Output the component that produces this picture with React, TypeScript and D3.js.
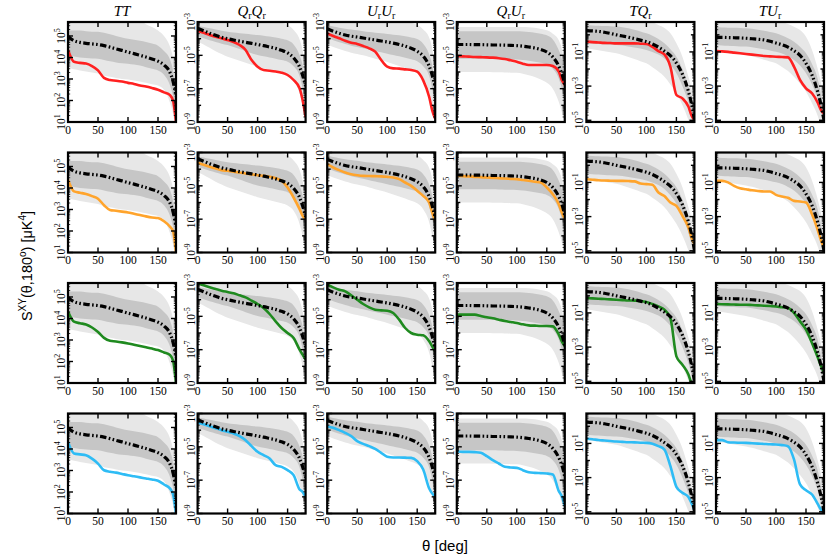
import React from 'react';
import * as d3 from 'd3';

// angular separation (deg) at which every curve is sampled
const THETA = [0, 10, 20, 30, 40, 50, 60, 70, 80, 90, 100, 110, 120, 130, 140, 150, 160, 170, 175, 180];

// all series are log10 of S^XY(theta,180deg)
// --- TT ---
const TT_MEAN = [4.98, 4.78, 4.7, 4.66, 4.63, 4.6, 4.55, 4.48, 4.4, 4.33, 4.25, 4.18, 4.1, 4.02, 3.93, 3.83, 3.65, 3.3, 2.9, 2.2];
const TT_IN_HI = [5.26, 5.25, 5.25, 5.22, 5.2, 5.2, 5.15, 5.08, 5.0, 4.93, 4.87, 4.82, 4.78, 4.72, 4.65, 4.55, 4.3, 3.9, 3.4, 2.3];
const TT_IN_LO = [4.1, 4.05, 4.0, 3.98, 3.95, 3.94, 3.88, 3.82, 3.77, 3.73, 3.71, 3.67, 3.63, 3.55, 3.48, 3.4, 3.2, 2.7, 2.2, 1.3];
const TT_OUT_HI = [5.9, 5.9, 5.9, 5.9, 5.9, 5.9, 5.9, 5.9, 5.9, 5.85, 5.8, 5.75, 5.7, 5.55, 5.42, 5.26, 5.0, 4.5, 4.0, 3.2];
const TT_OUT_LO = [3.55, 3.45, 3.4, 3.35, 3.3, 3.25, 3.15, 3.1, 3.05, 3.0, 2.98, 2.93, 2.88, 2.82, 2.76, 2.7, 2.5, 1.9, 1.4, 0.5];
const TT_RED = [4.35, 3.8, 3.75, 3.72, 3.6, 3.4, 3.05, 2.95, 2.92, 2.88, 2.82, 2.77, 2.7, 2.65, 2.58, 2.5, 2.38, 2.25, 2.0, 1.0];
const TT_ORANGE = [4.38, 3.84, 3.78, 3.72, 3.62, 3.5, 3.2, 2.98, 2.94, 2.9, 2.86, 2.8, 2.74, 2.68, 2.63, 2.6, 2.45, 2.2, 2.0, 1.0];
const TT_GREEN = [4.32, 3.85, 3.78, 3.72, 3.58, 3.37, 3.1, 2.96, 2.93, 2.89, 2.84, 2.78, 2.72, 2.66, 2.6, 2.53, 2.42, 2.3, 2.05, 1.0];
const TT_BLUE = [4.33, 3.79, 3.75, 3.71, 3.55, 3.32, 3.01, 2.94, 2.9, 2.84, 2.78, 2.73, 2.68, 2.63, 2.58, 2.52, 2.35, 2.16, 1.9, 1.0];

// --- QrQr ---
const QQ_MEAN = [-3.37, -3.52, -3.67, -3.8, -3.92, -4.0, -4.08, -4.15, -4.22, -4.28, -4.35, -4.42, -4.5, -4.58, -4.7, -4.85, -5.15, -5.7, -6.2, -6.85];
const QQ_IN_HI = [-3.25, -3.3, -3.38, -3.45, -3.52, -3.58, -3.63, -3.67, -3.71, -3.75, -3.78, -3.82, -3.87, -3.93, -4.0, -4.1, -4.35, -5.0, -5.6, -6.8];
const QQ_IN_LO = [-3.85, -3.98, -4.1, -4.2, -4.3, -4.38, -4.5, -4.62, -4.75, -4.87, -4.98, -5.06, -5.13, -5.2, -5.28, -5.38, -5.65, -6.25, -7.0, -8.3];
const QQ_OUT_HI = [-2.9, -2.9, -2.9, -2.9, -2.9, -2.9, -2.9, -2.9, -2.9, -2.9, -2.9, -2.9, -2.92, -2.95, -3.05, -3.18, -3.48, -4.05, -4.7, -6.0];
const QQ_OUT_LO = [-4.15, -4.35, -4.55, -4.75, -4.92, -5.08, -5.2, -5.32, -5.45, -5.57, -5.68, -5.77, -5.86, -5.95, -6.05, -6.18, -6.5, -7.3, -8.0, -9.2];
const QQ_RED = [-3.52, -3.65, -3.78, -3.88, -3.98, -4.08, -4.2, -4.38, -4.68, -5.28, -5.68, -5.88, -5.92, -5.97, -6.04, -6.18, -6.48, -6.98, -7.68, -8.7];
const QQ_ORANGE = [-3.6, -3.74, -3.86, -3.96, -4.06, -4.1, -4.16, -4.2, -4.26, -4.3, -4.36, -4.4, -4.46, -4.54, -4.7, -5.1, -5.7, -6.4, -6.8, -7.0];
const QQ_GREEN = [-3.0, -3.14, -3.26, -3.36, -3.46, -3.54, -3.62, -3.74, -3.86, -4.06, -4.26, -4.5, -4.86, -5.3, -5.7, -6.0, -6.3, -7.0, -7.3, -7.6];
const QQ_BLUE = [-3.56, -3.64, -3.76, -3.88, -4.0, -4.1, -4.2, -4.36, -4.6, -4.96, -5.3, -5.5, -5.7, -6.1, -6.2, -6.4, -6.7, -7.56, -7.7, -8.0];

// --- UrUr ---
const UU_MEAN = [-3.4, -3.55, -3.68, -3.78, -3.85, -3.9, -3.96, -4.02, -4.08, -4.14, -4.2, -4.27, -4.35, -4.45, -4.58, -4.75, -5.05, -5.65, -6.2, -6.9];
const UU_IN_HI = [-3.2, -3.27, -3.34, -3.4, -3.45, -3.5, -3.55, -3.6, -3.64, -3.68, -3.72, -3.76, -3.8, -3.86, -3.93, -4.02, -4.3, -4.95, -5.6, -6.8];
const UU_IN_LO = [-3.95, -4.1, -4.22, -4.32, -4.42, -4.5, -4.58, -4.66, -4.74, -4.82, -4.9, -4.98, -5.06, -5.14, -5.24, -5.36, -5.65, -6.25, -7.0, -8.3];
const UU_OUT_HI = [-2.9, -2.9, -2.9, -2.9, -2.9, -2.9, -2.9, -2.9, -2.9, -2.9, -2.9, -2.9, -2.92, -2.95, -3.05, -3.18, -3.45, -3.95, -4.6, -6.0];
const UU_OUT_LO = [-4.35, -4.5, -4.62, -4.74, -4.84, -4.92, -5.0, -5.1, -5.2, -5.3, -5.4, -5.52, -5.64, -5.76, -5.9, -6.05, -6.4, -7.2, -8.0, -9.2];
const UU_RED = [-3.68, -3.84, -3.98, -4.12, -4.24, -4.32, -4.44, -4.58, -4.78, -5.28, -5.68, -5.78, -5.8, -5.84, -5.88, -5.98, -6.5, -7.5, -8.3, -8.8];
const UU_ORANGE = [-3.7, -3.9, -4.06, -4.2, -4.3, -4.36, -4.4, -4.41, -4.42, -4.43, -4.46, -4.5, -4.6, -4.8, -5.0, -5.3, -5.6, -6.0, -6.6, -7.1];
const UU_GREEN = [-3.1, -3.26, -3.4, -3.5, -3.74, -4.0, -4.26, -4.46, -4.6, -4.64, -4.66, -4.8, -5.2, -5.7, -6.0, -6.1, -6.14, -6.5, -6.8, -7.1];
const UU_BLUE = [-3.76, -3.86, -4.0, -4.16, -4.36, -4.66, -4.82, -4.96, -5.12, -5.36, -5.6, -5.64, -5.64, -5.65, -5.66, -5.86, -6.36, -7.5, -7.8, -7.96];

// --- QrUr ---
const QU_MEAN = [-4.35, -4.35, -4.35, -4.36, -4.36, -4.37, -4.38, -4.38, -4.39, -4.4, -4.42, -4.45, -4.5, -4.56, -4.65, -4.8, -5.1, -5.65, -6.1, -6.75];
const QU_IN_HI = [-3.55, -3.55, -3.55, -3.55, -3.55, -3.55, -3.55, -3.55, -3.55, -3.55, -3.56, -3.57, -3.6, -3.64, -3.7, -3.8, -4.05, -4.7, -5.2, -6.3];
const QU_IN_LO = [-5.2, -5.2, -5.2, -5.2, -5.2, -5.2, -5.21, -5.22, -5.23, -5.24, -5.25, -5.28, -5.32, -5.38, -5.45, -5.55, -5.8, -6.4, -7.0, -7.9];
const QU_OUT_HI = [-3.3, -3.3, -3.3, -3.3, -3.3, -3.3, -3.3, -3.3, -3.3, -3.3, -3.3, -3.3, -3.32, -3.35, -3.42, -3.5, -3.7, -4.1, -4.6, -5.6];
const QU_OUT_LO = [-6.0, -6.0, -6.0, -6.0, -6.0, -6.0, -6.01, -6.02, -6.03, -6.04, -6.05, -6.1, -6.2, -6.3, -6.45, -6.65, -7.0, -7.8, -8.4, -9.2];
const QU_RED = [-5.04, -5.06, -5.08, -5.1, -5.11, -5.12, -5.14, -5.17, -5.22, -5.3, -5.38, -5.5, -5.58, -5.58, -5.58, -5.58, -5.64, -5.98, -6.48, -6.78];
const QU_ORANGE = [-4.4, -4.42, -4.44, -4.46, -4.48, -4.5, -4.52, -4.54, -4.56, -4.58, -4.6, -4.65, -4.7, -4.75, -4.8, -5.1, -5.5, -6.1, -6.6, -7.0];
const QU_GREEN = [-4.9, -4.9, -4.9, -4.9, -4.98, -5.06, -5.12, -5.2, -5.28, -5.34, -5.4, -5.48, -5.54, -5.56, -5.58, -5.58, -5.6, -6.1, -6.5, -6.8];
const QU_BLUE = [-5.26, -5.3, -5.3, -5.32, -5.36, -5.56, -5.8, -6.0, -6.2, -6.24, -6.26, -6.4, -6.52, -6.56, -6.58, -6.6, -6.66, -7.66, -7.96, -8.56];

// --- TQr ---
const TQ_MEAN = [0.25, 0.23, 0.2, 0.15, 0.08, 0.0, -0.07, -0.14, -0.22, -0.31, -0.4, -0.54, -0.72, -0.95, -1.22, -1.65, -2.3, -3.3, -4.0, -4.95];
const TQ_IN_HI = [0.57, 0.55, 0.53, 0.51, 0.5, 0.48, 0.44, 0.38, 0.3, 0.2, 0.09, -0.05, -0.25, -0.5, -0.85, -1.28, -2.0, -3.03, -3.9, -4.79];
const TQ_IN_LO = [-0.5, -0.52, -0.54, -0.56, -0.58, -0.6, -0.63, -0.68, -0.74, -0.8, -0.89, -1.0, -1.15, -1.38, -1.75, -2.25, -3.0, -3.95, -4.6, -5.3];
const TQ_OUT_HI = [0.9, 0.9, 0.9, 0.9, 0.9, 0.9, 0.9, 0.9, 0.9, 0.88, 0.85, 0.75, 0.57, 0.4, 0.09, -0.5, -1.28, -2.45, -3.1, -4.2];
const TQ_OUT_LO = [-0.79, -0.85, -0.9, -0.96, -1.02, -1.08, -1.18, -1.3, -1.42, -1.55, -1.67, -1.9, -2.15, -2.45, -2.9, -3.42, -4.1, -4.98, -5.5, -6.0];
const TQ_RED = [-0.4, -0.43, -0.45, -0.47, -0.48, -0.5, -0.5, -0.5, -0.5, -0.52, -0.54, -0.7, -0.95, -1.15, -1.87, -3.52, -3.72, -4.2, -4.7, -5.0];
const TQ_ORANGE = [-0.81, -0.84, -0.87, -0.89, -0.9, -0.91, -0.91, -0.92, -0.94, -1.06, -1.1, -1.14, -1.59, -1.8, -2.18, -2.37, -2.96, -3.64, -4.22, -4.6];
const TQ_GREEN = [-0.13, -0.15, -0.17, -0.19, -0.21, -0.23, -0.25, -0.27, -0.28, -0.3, -0.36, -0.48, -0.62, -0.81, -1.3, -3.54, -4.03, -4.6, -5.1, -5.3];
const TQ_BLUE = [-0.73, -0.76, -0.8, -0.83, -0.86, -0.89, -0.91, -0.93, -0.94, -0.96, -0.97, -1.02, -1.16, -1.36, -2.33, -3.54, -3.89, -4.13, -4.48, -4.9];

// --- TUr ---
const TU_MEAN = [-0.15, -0.15, -0.16, -0.17, -0.18, -0.2, -0.23, -0.26, -0.3, -0.38, -0.48, -0.58, -0.72, -0.93, -1.2, -1.67, -2.35, -3.4, -4.1, -5.0];
const TU_IN_HI = [0.44, 0.43, 0.42, 0.41, 0.4, 0.38, 0.35, 0.3, 0.24, 0.17, 0.09, -0.04, -0.2, -0.4, -0.7, -1.08, -1.7, -2.64, -3.5, -4.6];
const TU_IN_LO = [-0.6, -0.62, -0.64, -0.66, -0.68, -0.69, -0.72, -0.78, -0.84, -0.91, -0.99, -1.1, -1.27, -1.47, -1.8, -2.25, -2.9, -3.81, -4.5, -5.2];
const TU_OUT_HI = [0.9, 0.9, 0.9, 0.9, 0.9, 0.9, 0.9, 0.9, 0.9, 0.88, 0.85, 0.76, 0.63, 0.47, 0.28, -0.11, -0.89, -2.06, -2.8, -3.81];
const TU_OUT_LO = [-0.89, -0.94, -1.0, -1.06, -1.12, -1.18, -1.26, -1.36, -1.46, -1.56, -1.67, -1.88, -2.12, -2.45, -2.85, -3.33, -4.0, -4.79, -5.4, -6.0];
const TU_RED = [-0.95, -0.97, -1.0, -1.04, -1.08, -1.12, -1.16, -1.2, -1.24, -1.26, -1.28, -1.3, -1.32, -1.86, -2.64, -3.13, -3.42, -4.0, -4.4, -4.6];
const TU_ORANGE = [-0.91, -0.91, -1.0, -1.2, -1.34, -1.4, -1.46, -1.5, -1.53, -1.53, -1.73, -1.83, -1.9, -2.08, -2.12, -2.18, -2.86, -3.83, -4.4, -4.8];
const TU_GREEN = [-0.48, -0.49, -0.5, -0.51, -0.52, -0.52, -0.54, -0.56, -0.58, -0.6, -0.62, -0.67, -0.71, -1.0, -1.49, -1.98, -2.76, -3.64, -4.1, -4.5];
const TU_BLUE = [-0.81, -0.81, -0.93, -0.95, -0.96, -0.97, -0.99, -1.01, -1.03, -1.05, -1.06, -1.1, -1.16, -1.94, -3.4, -3.74, -3.99, -4.57, -4.87, -5.0];

const X_TICKS = [0, 50, 100, 150];
const ROW_COLORS = ['#ff2020', '#ffa42c', '#1f8a1f', '#2ebcf5'];

type Title = { a: string; b: string };
interface ColumnSpec {
  title: Title;
  lo: number;
  hi: number;
  labels: number[];
  mean: number[];
  inner: [number[], number[]];
  outer: [number[], number[]];
  rows: number[][];
}

const COLUMNS: ColumnSpec[] = [
  { title: { a: 'T', b: 'T' }, lo: 1, hi: 5.65, labels: [1, 2, 3, 4, 5], mean: TT_MEAN,
    inner: [TT_IN_LO, TT_IN_HI], outer: [TT_OUT_LO, TT_OUT_HI], rows: [TT_RED, TT_ORANGE, TT_GREEN, TT_BLUE] },
  { title: { a: 'Q', b: 'Q' }, lo: -9, hi: -3, labels: [-3, -5, -7, -9], mean: QQ_MEAN,
    inner: [QQ_IN_LO, QQ_IN_HI], outer: [QQ_OUT_LO, QQ_OUT_HI], rows: [QQ_RED, QQ_ORANGE, QQ_GREEN, QQ_BLUE] },
  { title: { a: 'U', b: 'U' }, lo: -9, hi: -3, labels: [-3, -5, -7, -9], mean: UU_MEAN,
    inner: [UU_IN_LO, UU_IN_HI], outer: [UU_OUT_LO, UU_OUT_HI], rows: [UU_RED, UU_ORANGE, UU_GREEN, UU_BLUE] },
  { title: { a: 'Q', b: 'U' }, lo: -9, hi: -3, labels: [-3, -5, -7, -9], mean: QU_MEAN,
    inner: [QU_IN_LO, QU_IN_HI], outer: [QU_OUT_LO, QU_OUT_HI], rows: [QU_RED, QU_ORANGE, QU_GREEN, QU_BLUE] },
  { title: { a: 'T', b: 'Q' }, lo: -5.1, hi: 0.75, labels: [-1, -3, -5], mean: TQ_MEAN,
    inner: [TQ_IN_LO, TQ_IN_HI], outer: [TQ_OUT_LO, TQ_OUT_HI], rows: [TQ_RED, TQ_ORANGE, TQ_GREEN, TQ_BLUE] },
  { title: { a: 'T', b: 'U' }, lo: -5.1, hi: 0.75, labels: [-1, -3, -5], mean: TU_MEAN,
    inner: [TU_IN_LO, TU_IN_HI], outer: [TU_OUT_LO, TU_OUT_HI], rows: [TU_RED, TU_ORANGE, TU_GREEN, TU_BLUE] },
];

const W = 831;
const H = 558;
const COL_LEFT = [68, 197.6, 327.2, 456.8, 586.4, 716];
const ROW_TOP = [22, 152.5, 283, 413.5];
const PW = 108;
const PH = 100;
const SERIF = '"Liberation Serif", "DejaVu Serif", serif';
const SANS = '"Liberation Sans", Arial, sans-serif';

function logTicks(lo: number, hi: number) {
  const majors: number[] = [];
  const minors: number[] = [];
  for (let d = Math.floor(lo); d <= Math.ceil(hi); d++) {
    if (d >= lo - 1e-9 && d <= hi + 1e-9) majors.push(d);
    for (let m = 2; m <= 9; m++) {
      const e = d + Math.log10(m);
      if (e > lo && e < hi) minors.push(e);
    }
  }
  return { majors, minors };
}

// T is not polarised, so it gets no subscript r
const PanelTitle: React.FC<{ t: Title; cx: number }> = ({ t, cx }) => {
  const subA = t.a !== 'T';
  const subB = t.b !== 'T';
  return (
    <text x={cx} y={16} textAnchor="middle" fontFamily={SERIF} fontSize={15} fontStyle="italic">
      {t.a}
      {subA && <tspan fontStyle="normal" fontSize={10} dy={3}>r</tspan>}
      <tspan dy={subA ? -3 : 0}>{t.b}</tspan>
      {subB && <tspan fontStyle="normal" fontSize={10} dy={3}>r</tspan>}
    </text>
  );
};

const Panel: React.FC<{ spec: ColumnSpec; col: number; row: number }> = ({ spec, col, row }) => {
  const left = COL_LEFT[col];
  const top = ROW_TOP[row];
  const x = d3.scaleLinear().domain([0, 180]).range([left, left + PW]);
  const y = d3.scaleLog().domain([10 ** spec.lo, 10 ** spec.hi]).range([top + PH, top]);
  const idx = d3.range(THETA.length);

  const band = (lo: number[], hi: number[]) =>
    d3.area<number>()
      .x(i => x(THETA[i]))
      .y0(i => y(10 ** lo[i]))
      .y1(i => y(10 ** hi[i]))
      .curve(d3.curveMonotoneX)(idx) || '';
  const line = (v: number[]) =>
    d3.line<number>()
      .x(i => x(THETA[i]))
      .y(i => y(10 ** v[i]))
      .curve(d3.curveMonotoneX)(idx) || '';

  const { majors, minors } = logTicks(spec.lo, spec.hi);
  const clipId = `clip-${row}-${col}`;

  return (
    <g>
      <defs>
        <clipPath id={clipId}>
          <rect x={left} y={top} width={PW} height={PH} />
        </clipPath>
      </defs>
      <g clipPath={`url(#${clipId})`}>
        <path d={band(spec.outer[0], spec.outer[1])} fill="#e7e7e7" />
        <path d={band(spec.inner[0], spec.inner[1])} fill="#c6c6c6" />
        <path d={line(spec.rows[row])} fill="none" stroke={ROW_COLORS[row]} strokeWidth={2.6} />
        <path d={line(spec.mean)} fill="none" stroke="#000" strokeWidth={3.2}
          strokeDasharray="6.5,2.4,1.6,2.4,1.6,2.4" />
      </g>

      {/* y ticks on both spines, pointing inwards */}
      {minors.map(e => (
        <g key={`mn${e}`} stroke="#000" strokeWidth={0.8}>
          <line x1={left} x2={left + 2.2} y1={y(10 ** e)} y2={y(10 ** e)} />
          <line x1={left + PW} x2={left + PW - 2.2} y1={y(10 ** e)} y2={y(10 ** e)} />
        </g>
      ))}
      {majors.map(e => {
        const len = spec.labels.includes(e) ? 5 : 3.5;
        return (
          <g key={`mj${e}`} stroke="#000" strokeWidth={1.4}>
            <line x1={left} x2={left + len} y1={y(10 ** e)} y2={y(10 ** e)} />
            <line x1={left + PW} x2={left + PW - len} y1={y(10 ** e)} y2={y(10 ** e)} />
          </g>
        );
      })}
      {X_TICKS.filter(t => t > 0).map(t => (
        <g key={`xt${t}`} stroke="#000" strokeWidth={1.4}>
          <line x1={x(t)} x2={x(t)} y1={top + PH} y2={top + PH - 5} />
          <line x1={x(t)} x2={x(t)} y1={top} y2={top + 5} />
        </g>
      ))}

      <rect x={left} y={top} width={PW} height={PH} fill="none" stroke="#000" strokeWidth={2.2} />

      {/* tick labels */}
      {X_TICKS.map(t => (
        <text key={`xl${t}`} x={x(t)} y={top + PH + 11.5} textAnchor="middle"
          fontFamily={SERIF} fontSize={11.5}>{t}</text>
      ))}
      {spec.labels.map(e => (
        <text key={`yl${e}`} transform={`translate(${left - 3},${y(10 ** e)}) rotate(-90)`}
          textAnchor="middle" fontFamily={SERIF} fontSize={11.5}>
          10<tspan dy={-5} fontSize={8}>{e < 0 ? `-${-e}` : e}</tspan>
        </text>
      ))}
    </g>
  );
};

const App: React.FC = () => (
  <svg width={W} height={H} viewBox={`0 0 ${W} ${H}`}
    style={{ position: 'absolute', left: 0, top: 0, background: '#fff' }}>
    <rect width={W} height={H} fill="#fff" />
    {COLUMNS.map((c, ci) => (
      <PanelTitle key={`t${ci}`} t={c.title} cx={COL_LEFT[ci] + PW / 2} />
    ))}
    {ROW_TOP.map((_, ri) =>
      COLUMNS.map((c, ci) => <Panel key={`p${ri}-${ci}`} spec={c} col={ci} row={ri} />)
    )}
    <text transform="translate(32,266) rotate(-90)" textAnchor="middle" fontFamily={SANS} fontSize={14.5}>
      S<tspan dy={-6} fontSize={10}>XY</tspan>
      <tspan dy={6}>(θ,180</tspan>
      <tspan dy={-6} fontSize={10}>o</tspan>
      <tspan dy={6}>) [μK</tspan>
      <tspan dy={-6} fontSize={10}>4</tspan>
      <tspan dy={6}>]</tspan>
    </text>
    <text x={445} y={551} textAnchor="middle" fontFamily={SANS} fontSize={15}>θ [deg]</text>
  </svg>
);

export default App;
